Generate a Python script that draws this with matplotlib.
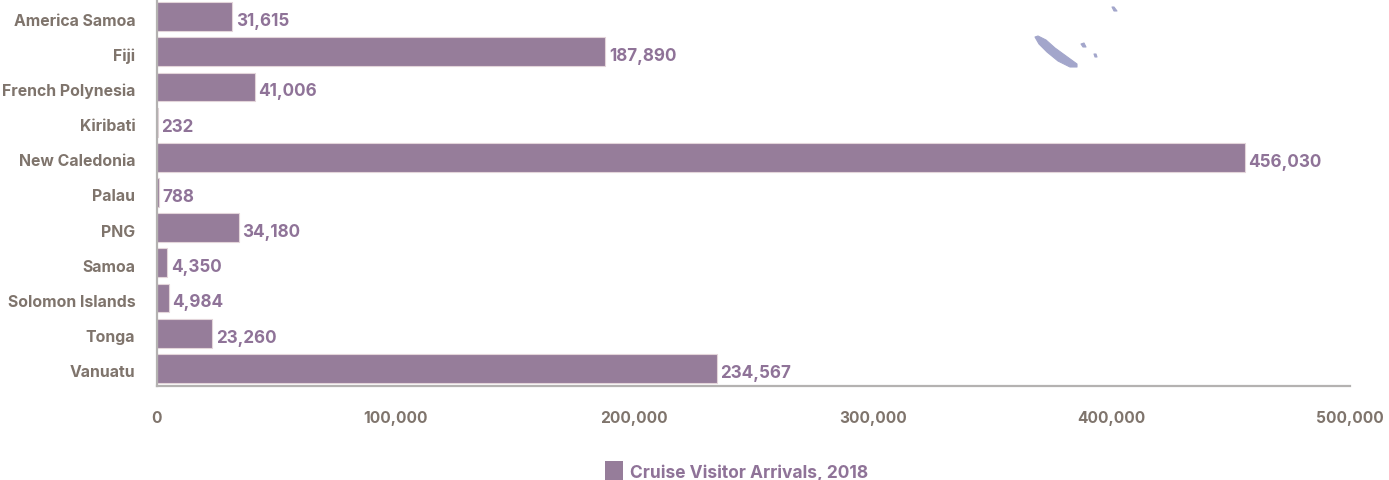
import matplotlib
matplotlib.use('Agg')
import matplotlib.pyplot as plt
import matplotlib.transforms as mtrans
from matplotlib.patches import Polygon, Rectangle
from matplotlib.ticker import FuncFormatter

countries = ['America Samoa', 'Fiji', 'French Polynesia', 'Kiribati', 'New Caledonia',
             'Palau', 'PNG', 'Samoa', 'Solomon Islands', 'Tonga', 'Vanuatu']
arrivals = [31615, 187890, 41006, 232, 456030, 788, 34180, 4350, 4984, 23260, 234567]
x_ticks = [0, 100000, 200000, 300000, 400000, 500000]
legend_label = 'Cruise Visitor Arrivals, 2018'

# faint map fragments left behind the chart, in pixels
main_island = [(1035, 38), (1038, 37), (1046, 41), (1055, 49), (1066, 57), (1077, 65),
               (1077, 68), (1070, 68), (1058, 62), (1047, 53), (1039, 45)]
small_islands = [
    [(1081, 45), (1084, 44), (1086, 48), (1083, 48)],
    [(1094, 55), (1096, 55), (1097, 58), (1095, 58)],
    [(1112, 8), (1114, 8), (1117, 12), (1114, 12)],
]

BAR = '#967d9a'
BAR_EDGE = '#e3d5da'
TEXT = '#7f746c'
VALUE = '#8f7398'
AXIS = '#b4b2b1'
ISLAND = '#a3a6cb'

W, H = 1389, 481
plt.rcParams['font.family'] = ['Inter', 'DejaVu Sans']
plt.rcParams['font.weight'] = 'bold'

fig = plt.figure(figsize=(W / 100, H / 100), dpi=100)
ax = fig.add_axes([157 / W, 1 - 387 / H, (1350 - 157) / W, 387 / H])

for pts in [main_island] + small_islands:
    fig.add_artist(Polygon([(x / W, 1 - y / H) for x, y in pts], closed=True,
                           transform=fig.transFigure, facecolor=ISLAND, edgecolor=ISLAND,
                           linewidth=0.8, joinstyle='round'))

ypos = range(len(countries))
ax.barh(ypos, arrivals, height=0.82, color=BAR, edgecolor=BAR_EDGE, linewidth=0.8, zorder=2)
for i, v in enumerate(arrivals):
    ax.annotate(f'{v:,}', (v, i), xytext=(2.5, -2.8), textcoords='offset points',
                va='center', ha='left', fontsize=12.3, color=VALUE)

ax.set_xlim(0, 500000)
ax.set_ylim(len(countries) - 0.5, -0.5)
ax.set_yticks(list(ypos))
ax.set_yticklabels(countries)
ax.set_xticks(x_ticks)
ax.xaxis.set_major_formatter(FuncFormatter(lambda v, _: f'{int(v):,}'))
ax.tick_params(axis='y', length=0, pad=15.6, labelsize=11.4, labelcolor=TEXT)
ax.tick_params(axis='x', length=0, pad=17.5, labelsize=11.2, labelcolor=TEXT)

# nudge the category labels down a little
down = mtrans.ScaledTranslation(0, -2 / 100, fig.dpi_scale_trans)
for label in ax.get_yticklabels():
    label.set_transform(label.get_transform() + down)

for side in ['top', 'right']:
    ax.spines[side].set_visible(False)
for side in ['left', 'bottom']:
    ax.spines[side].set_color(AXIS)
    ax.spines[side].set_linewidth(1.6)
ax.patch.set_alpha(0)

# legend swatch and label
fig.add_artist(Rectangle((605 / W, 1 - 481 / H), 18 / W, 19 / H, transform=fig.transFigure,
                         facecolor=BAR, edgecolor='none'))
fig.text(630 / W, 1 - 473 / H, legend_label, fontsize=12.5, color=VALUE, va='center', ha='left')

fig.savefig('out.png', dpi=100)
